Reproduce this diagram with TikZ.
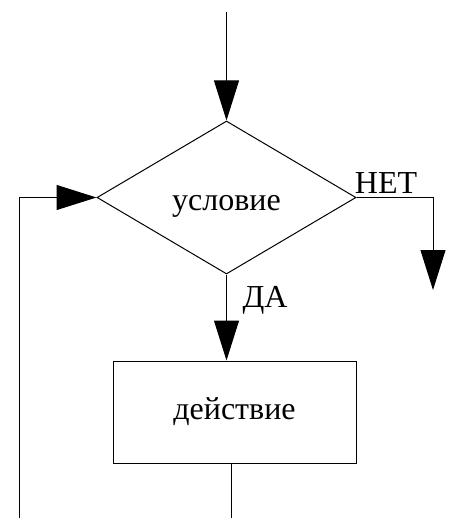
\documentclass[tikz,border=0pt]{standalone}
\usepackage{fontspec}
\setmainfont{Liberation Serif}
\usetikzlibrary{shapes.geometric,arrows.meta}
\tikzset{
  flow/.style={line width=1pt},
  arr/.style={flow,-{Triangle[length=40pt,width=25pt]}},
  cond/.style={diamond,draw,line width=1pt,aspect=1.7,inner sep=0pt,
    text height=30pt,text depth=3pt,
    minimum width=259pt,minimum height=153pt},
  act/.style={rectangle,draw,line width=1pt,minimum width=243pt,minimum height=102pt},
  lbl/.style={inner sep=0pt}
}

\begin{document}
\begin{tikzpicture}[x=1pt,y=-1pt,font=\fontsize{32}{38}\selectfont]
   \useasboundingbox (0,0) rectangle (453,518);
   \node[cond] (check) at (226.5,197.5) {условие};
   \node[act] (body) at (234.5,412) {действие};
   \coordinate (entry) at (226.5,12);
   \coordinate (exit) at (433,290);
   \coordinate (back) at (19,518);
   \coordinate (tail) at (231.5,518);
   % loop entry and condition outputs
   \draw[arr] (entry) -- (check.north);
   \draw[arr] (check.east) -| (exit);
   \draw[arr] (check.south) -- (check.south |- body.north);
   \draw[flow] (body.south -| tail) -- (tail);
   \draw[arr] (back) |- (check.west);
   \node[lbl] (no) at (386,183) {НЕТ};
   \node[lbl] (yes) at (265,300) {ДА};
\end{tikzpicture}
\end{document}
